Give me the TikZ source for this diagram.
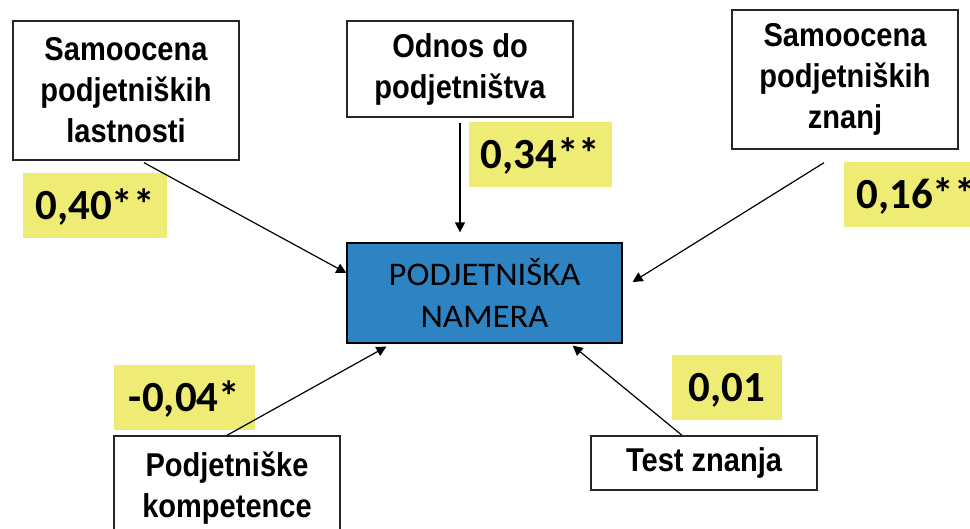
\documentclass[tikz,border=0pt]{standalone}
\usepackage{fontspec}
\usetikzlibrary{arrows.meta,calc}
\newfontfamily\boxfont[FakeStretch=0.88]{Liberation Sans}
\newfontfamily\numfont{Carlito}
\newfontfamily\midfont[FakeStretch=1.05]{Carlito}
\definecolor{midblue}{RGB}{46,132,194}
\definecolor{lblyellow}{RGB}{239,236,117}
\begin{document}
\begin{tikzpicture}[x=1pt,y=-1pt,
  varbox/.style={draw=black!85, line width=1.4pt, fill=white, minimum width=226pt, align=center,
    font=\boxfont\bfseries\fontsize{33}{41}\selectfont, inner sep=0pt},
  coef/.style={fill=lblyellow, minimum height=65pt, inner sep=0pt,
    font=\numfont\bfseries\fontsize{43}{50}\selectfont, text height=27pt, text depth=0pt},
  link/.style={line width=1.2pt, -{Triangle[length=10pt,width=10pt]}}]
\clip (0,0) rectangle (970,528);
\fill[white] (0,0) rectangle (970,528);
% centre
\node[draw=black, line width=1.2pt, fill=midblue, minimum width=275pt, minimum height=100pt,
  inner sep=0pt, align=center, font=\midfont\fontsize{33}{42}\selectfont] (pn) at (484.5,293) {PODJETNIŠKA\\NAMERA};
% variable boxes
\node[varbox, minimum height=139pt] (b1) at (126,90.5) {Samoocena\\podjetniških\\lastnosti};
\node[varbox, minimum height=96pt] (b2) at (460,69) {Odnos do\\podjetništva};
\node[varbox, minimum height=139pt] (b3) at (845,79.5) {Samoocena\\podjetniških\\znanj};
\node[varbox, minimum height=104pt] (b4) at (227,488) {Podjetniške\\kompetence};
\node[varbox, minimum height=54pt] (b5) at (704,463) {Test znanja};
% coefficients
\node[coef, minimum width=144pt] (c1) at (95,205.5) {0,40**};
\node[coef, minimum width=143pt] (c2) at (540.5,154.5) {0,34**};
\node[coef, minimum width=144pt] (c3) at (916,194.5) {0,16**};
\node[coef, minimum width=141pt] (c4) at (184.5,397.5) {-0,04*};
\node[coef, minimum width=110pt] (c5) at (727,387.5) {0,01\hspace{10pt}};
% connectors
\draw[link] ($(b1.south)+(18,2)$) -- ($(pn.west)+(0,-20)$);
\draw[link] ($(b2.south)+(0,5)$) -- ($(b2.south |- pn.north)+(0,-10)$);
\draw[link] ($(b3.south)+(-21,13)$) -- ($(pn.east)+(10,-11)$);
\draw[link] (b4.north) -- ($(pn.south west)+(40,3)$);
\draw[link] ($(b5.north)+(-22,0)$) -- ($(pn.south east)+(-50,2)$);
\end{tikzpicture}
\end{document}
